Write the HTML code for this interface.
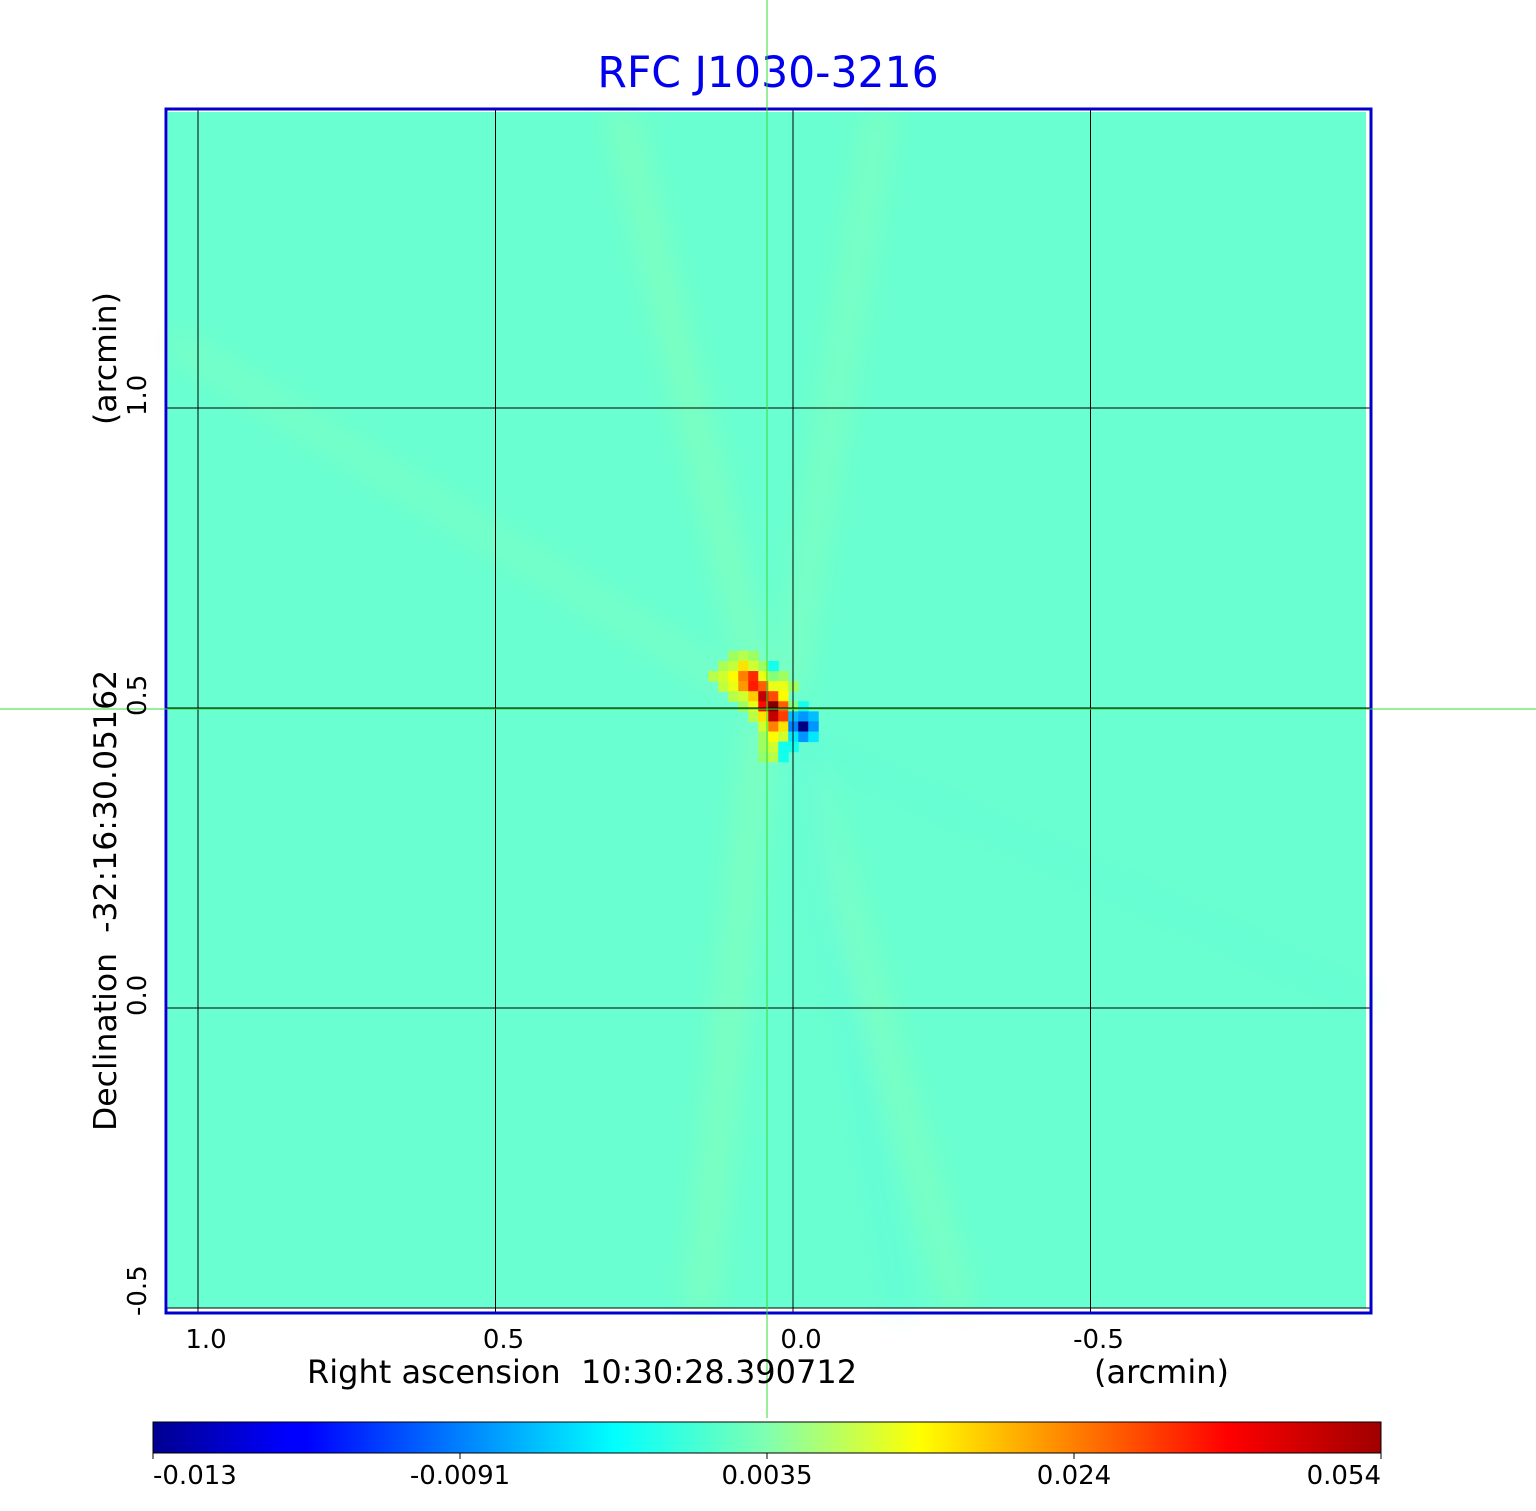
<!DOCTYPE html>
<html><head><meta charset="utf-8"><style>
html,body{margin:0;padding:0;background:#fff;}
body{width:1536px;height:1511px;position:relative;overflow:hidden;font-family:"DejaVu Sans","Liberation Sans",sans-serif;}
.t{position:absolute;white-space:nowrap;color:#000;}
svg text{font-family:"DejaVu Sans","Liberation Sans",sans-serif;}
</style></head><body>
<div class="t" style="left:0;width:1536px;text-align:center;top:49px;font-size:42.5px;color:#0000ee;">RFC J1030-3216</div>
<svg id="plot" width="1536" height="1511" style="position:absolute;left:0;top:0">
<defs>
<linearGradient id="jet" x1="0" x2="1" y1="0" y2="0">
<stop offset="0" stop-color="#000090"/><stop offset="0.11" stop-color="#0000ff"/><stop offset="0.125" stop-color="#0000ff"/>
<stop offset="0.375" stop-color="#00ffff"/><stop offset="0.5" stop-color="#80ffb0"/><stop offset="0.625" stop-color="#ffff00"/>
<stop offset="0.875" stop-color="#ff0000"/><stop offset="1" stop-color="#a00000"/>
</linearGradient>
<filter id="blur"><feGaussianBlur stdDeviation="14"/></filter>
</defs>
<rect x="168" y="112" width="1198" height="1196" fill="#6affd0"/>
<g id="streaks" filter="url(#blur)" opacity="0.3">
<line x1="620" y1="110" x2="760" y2="690" stroke="#b8ff90" stroke-width="24"/>
<line x1="760" y1="720" x2="700" y2="1310" stroke="#b8ff90" stroke-width="24"/>
<line x1="880" y1="110" x2="790" y2="690" stroke="#b8ff90" stroke-width="20"/>
<line x1="800" y1="740" x2="960" y2="1310" stroke="#b8ff90" stroke-width="20"/>
<line x1="800" y1="740" x2="900" y2="1310" stroke="#40f0f0" stroke-width="16"/>
<line x1="170" y1="340" x2="740" y2="690" stroke="#b0ffa0" stroke-width="16"/>
<line x1="800" y1="740" x2="1366" y2="1000" stroke="#50f4e0" stroke-width="16"/>
</g>
<g id="cells"></g>
<g id="grid"></g>
<rect x="166" y="109" width="1205" height="1204" fill="none" stroke="#0000cc" stroke-width="3"/>
<line x1="767" y1="0" x2="767" y2="1418" stroke="#33dd33" stroke-width="1"/>
<line x1="0" y1="709" x2="1536" y2="709" stroke="#33dd33" stroke-width="1"/>
<rect x="153" y="1422" width="1228" height="31" fill="url(#jet)" stroke="#000" stroke-width="1"/>
<g id="cbticks"></g>
<text xml:space="preserve" transform="translate(116,1131) rotate(-90)" font-size="31.5" fill="#000">Declination  -32:16:30.05162</text>
<text transform="translate(116,425) rotate(-90)" font-size="31.5" fill="#000">(arcmin)</text>
<g id="ylabels"></g>
</svg>
<div class="t" style="left:307px;top:1353px;font-size:32px;">Right ascension&nbsp;&nbsp;10:30:28.390712</div>
<div class="t" style="left:1094px;top:1353px;font-size:32px;">(arcmin)</div>
<div id="labels"></div>
<script>
const xTicks=[1.0,0.5,0.0,-0.5];
const xTickLabels=["1.0","0.5","0.0","-0.5"];
const yTicks=[1.0,0.5,0.0,-0.5];
const yTickLabels=["1.0","0.5","0.0","-0.5"];
const cbTicks=[-0.013,-0.0091,0.0035,0.024,0.054];
const cbTickLabels=["-0.013","-0.0091","0.0035","0.024","0.054"];
const B=0.003;
const cellValues=[
[B,B,B,B,B,B,B,B,B,B,B,B,B,B],
[B,B,B,B,0.006,0.008,0.006,B,B,B,B,B,B,B],
[B,B,B,0.007,0.009,0.016,0.010,0.006,-0.002,B,B,B,B,B],
[B,B,0.008,0.010,0.014,0.024,0.034,0.012,0.004,0.006,B,B,B,B],
[B,B,B,0.009,0.012,0.022,0.036,0.028,0.012,0.012,0.006,B,B,B],
[B,B,B,B,0.008,0.010,0.018,0.046,0.030,0.014,B,B,B,B],
[B,B,B,B,B,0.006,0.012,0.038,0.054,0.028,0.004,-0.002,B,B],
[B,B,B,B,B,B,0.008,0.016,0.046,0.032,-0.006,-0.008,-0.006,B],
[B,B,B,B,B,B,B,0.010,0.024,0.016,-0.009,-0.013,-0.008,B],
[B,B,B,B,B,B,B,0.006,0.014,0.010,-0.004,-0.008,-0.004,B],
[B,B,B,B,B,B,B,0.006,0.010,-0.002,-0.002,B,B,B],
[B,B,B,B,B,B,B,0.005,0.008,-0.002,B,B,B,B]
];
const NS='http://www.w3.org/2000/svg';
const xScale=v=>793+(198-793)*v;
const yScale=v=>1008+(408-1008)*v;
const cbScale=v=>{let i=0;while(i<cbTicks.length-2&&v>cbTicks[i+1])i++;const f=(v-cbTicks[i])/(cbTicks[i+1]-cbTicks[i]);return (i+f)/(cbTicks.length-1);};
function jet(t){t=Math.max(0,Math.min(1,t));const c=x=>Math.round(255*Math.max(0,Math.min(1,1.5-Math.abs(4*t-x))));return `rgb(${c(3)},${c(2)},${c(1)})`;}
const cellX0=0.176, cellY0=0.612, cellStep=0.0168;
const cells=document.getElementById('cells');
cellValues.forEach((row,r)=>row.forEach((v,c)=>{
  if(v===B)return;
  const x=xScale(cellX0-c*cellStep), y=yScale(cellY0-r*cellStep);
  const el=document.createElementNS(NS,'rect');
  el.setAttribute('x',x);el.setAttribute('y',y);
  el.setAttribute('width',Math.abs(xScale(0)-xScale(cellStep))+0.5);
  el.setAttribute('height',Math.abs(yScale(0)-yScale(cellStep))+0.5);
  el.setAttribute('fill',jet(cbScale(v)));
  
  
  cells.appendChild(el);
}));
const grid=document.getElementById('grid');
const labels=document.getElementById('labels');
xTicks.forEach((v,i)=>{
  const l=document.createElementNS(NS,'line');
  l.setAttribute('x1',xScale(v));l.setAttribute('x2',xScale(v));l.setAttribute('y1',110);l.setAttribute('y2',1312);
  l.setAttribute('stroke','#000');l.setAttribute('stroke-width','1');
  
  
  grid.appendChild(l);
  const d=document.createElement('div');d.className='t';
  d.style.cssText=`left:${xScale(v)+8}px;top:1325px;font-size:26px;transform:translateX(-50%);`;
  d.textContent=xTickLabels[i];
  
  
  labels.appendChild(d);
});
const ylab=document.getElementById('ylabels');
yTicks.forEach((v,i)=>{
  const y=yScale(v);
  if(y>110&&y<1312){const l=document.createElementNS(NS,'line');
  l.setAttribute('x1',167);l.setAttribute('x2',1370);l.setAttribute('y1',y);l.setAttribute('y2',y);
  l.setAttribute('stroke','#000');l.setAttribute('stroke-width','1');
  
  
  grid.appendChild(l);}
  const t=document.createElementNS(NS,'text');
  const ys=Math.min(y+8,1328);
  t.setAttribute('transform',`translate(146,${ys}) rotate(-90)`);
  t.setAttribute('font-size','26');
  t.textContent=yTickLabels[i];
  
  
  ylab.appendChild(t);
});
const cbt=document.getElementById('cbticks');
cbTicks.forEach((v,i)=>{
  const x=153+1228*cbScale(v);
  const l=document.createElementNS(NS,'line');
  l.setAttribute('x1',x);l.setAttribute('x2',x);l.setAttribute('y1',1453);l.setAttribute('y2',1459);
  l.setAttribute('stroke','#000');
  
  
  cbt.appendChild(l);
  const d=document.createElement('div');d.className='t';
  const tx=i===0?'0':(i===cbTicks.length-1?'-100%':'-50%');
  d.style.cssText=`left:${x}px;top:1461px;font-size:26px;transform:translateX(${tx});`;
  d.textContent=cbTickLabels[i];
  
  
  labels.appendChild(d);
});
</script>
</body></html>
